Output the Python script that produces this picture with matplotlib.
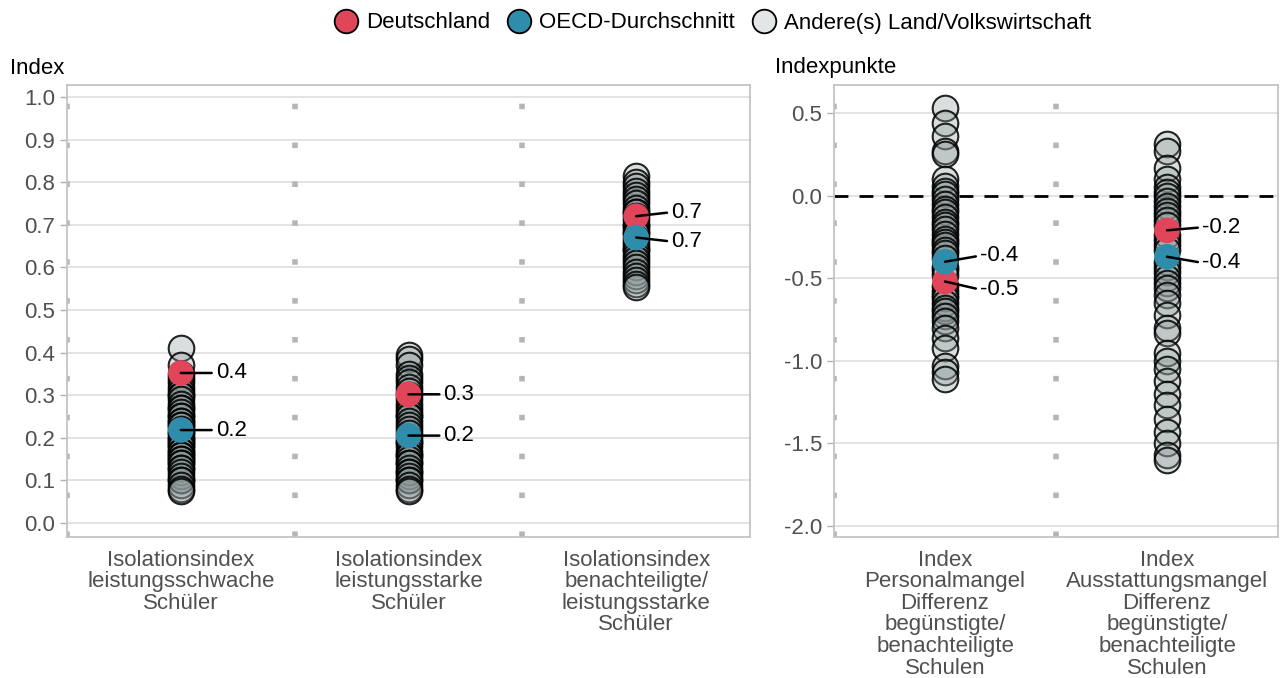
import matplotlib.pyplot as plt
from matplotlib.lines import Line2D

plt.rcParams['font.family'] = ['Liberation Sans', 'DejaVu Sans']

# left panel: isolation indices
left_cats = ['Isolationsindex\nleistungsschwache\nSchüler',
             'Isolationsindex\nleistungsstarke\nSchüler',
             'Isolationsindex\nbenachteiligte/\nleistungsstarke\nSchüler']
left_others = [
    [0.41, 0.37, 0.35, 0.34, 0.33, 0.32, 0.31, 0.30, 0.30, 0.29, 0.28, 0.27, 0.27, 0.26, 0.25,
     0.25, 0.24, 0.24, 0.23, 0.23, 0.22, 0.21, 0.21, 0.20, 0.20, 0.19, 0.19, 0.18, 0.18, 0.17,
     0.17, 0.16, 0.16, 0.15, 0.15, 0.14, 0.14, 0.13, 0.13, 0.12, 0.11, 0.10, 0.10, 0.09, 0.08, 0.075],
    [0.395, 0.385, 0.37, 0.35, 0.34, 0.33, 0.32, 0.31, 0.30, 0.29, 0.28, 0.27, 0.26, 0.25, 0.25,
     0.24, 0.23, 0.22, 0.21, 0.20, 0.19, 0.19, 0.18, 0.17, 0.16, 0.16, 0.15, 0.14, 0.14, 0.13,
     0.12, 0.12, 0.11, 0.10, 0.10, 0.09, 0.08, 0.075],
    [0.815, 0.80, 0.79, 0.78, 0.77, 0.76, 0.75, 0.74, 0.73, 0.73, 0.72, 0.71, 0.70, 0.70, 0.69,
     0.68, 0.68, 0.67, 0.66, 0.65, 0.64, 0.64, 0.63, 0.62, 0.61, 0.60, 0.59, 0.58, 0.57, 0.56, 0.555],
]
left_de = [0.352, 0.302, 0.72]
left_oecd = [0.218, 0.205, 0.67]
left_de_lbl = ['0.4', '0.3', '0.7']
left_oecd_lbl = ['0.2', '0.2', '0.7']

# right panel: differences in shortage indices
right_cats = ['Index\nPersonalmangel\nDifferenz\nbegünstigte/\nbenachteiligte\nSchulen',
              'Index\nAusstattungsmangel\nDifferenz\nbegünstigte/\nbenachteiligte\nSchulen']
right_others = [
    [0.53, 0.44, 0.36, 0.27, 0.25, 0.10, 0.06, 0.03, 0.01, -0.02, -0.05, -0.08, -0.10, -0.13,
     -0.16, -0.18, -0.20, -0.23, -0.26, -0.28, -0.30, -0.33, -0.35, -0.38, -0.43, -0.45, -0.48,
     -0.55, -0.58, -0.60, -0.62, -0.65, -0.68, -0.70, -0.73, -0.76, -0.80, -0.86, -0.92, -1.03,
     -1.07, -1.11],
    [0.31, 0.27, 0.17, 0.10, 0.05, 0.02, 0.00, -0.03, -0.06, -0.09, -0.12, -0.15, -0.18, -0.24,
     -0.27, -0.30, -0.33, -0.40, -0.43, -0.46, -0.50, -0.53, -0.56, -0.60, -0.65, -0.72, -0.80,
     -0.83, -0.95, -1.00, -1.05, -1.12, -1.20, -1.27, -1.35, -1.43, -1.50, -1.57, -1.60],
]
right_de = [-0.52, -0.21]
right_oecd = [-0.40, -0.37]
right_de_lbl = ['-0.5', '-0.2']
right_oecd_lbl = ['-0.4', '-0.4']

RED = '#e0455a'
BLUE = '#2f8dab'
GREY_FACE = (0.55, 0.6, 0.6, 0.32)
TXT = '#505050'
MS = 340
FS = 16

fig = plt.figure(figsize=(12.85, 6.78), dpi=100)
W, H = 1285, 678
ax1 = fig.add_axes([67 / W, 1 - 537 / H, (750 - 67) / W, (537 - 85) / H])
ax2 = fig.add_axes([834 / W, 1 - 537 / H, (1278 - 834) / W, (537 - 85) / H])


def draw_panel(ax, cats, others, de, oecd, de_lbl, oecd_lbl, label_dy):
    n = len(cats)
    for i in range(n):
        ax.scatter([i] * len(others[i]), others[i], s=MS, facecolor=GREY_FACE,
                   edgecolor=(0, 0, 0, 0.85), linewidth=1.5, zorder=3)
        ax.scatter([i], [de[i]], s=MS, facecolor=RED, edgecolor='none', zorder=5)
        ax.scatter([i], [oecd[i]], s=MS, facecolor=BLUE, edgecolor='none', zorder=5)
        dy_de, dy_oecd = label_dy[i]
        for val, lbl, dy in [(de[i], de_lbl[i], dy_de), (oecd[i], oecd_lbl[i], dy_oecd)]:
            ax.annotate(lbl, xy=(i, val), xytext=(35, dy), textcoords='offset pixels',
                        va='center', ha='left', fontsize=FS, color='black', zorder=6,
                        arrowprops=dict(arrowstyle='-', color='black', lw=1.8,
                                        shrinkA=1, shrinkB=0,
                                        relpos=(0, 0.5)))
    ax.set_xlim(-0.5, n - 0.5)
    ax.set_xticks(range(n))
    ax.set_xticklabels(cats, fontsize=FS, color=TXT, linespacing=1.04)
    for b in range(n):
        ax.axvline(b - 0.5, color='#b5b5b5', lw=4, ls=(0, (1, 6)), zorder=1)
    ax.grid(axis='y', color='#dedede', lw=1.2, zorder=0)
    ax.set_axisbelow(True)
    for sp in ax.spines.values():
        sp.set_color('#c4c4c4')
        sp.set_linewidth(1.3)
    ax.tick_params(axis='y', colors='#b0b0b0', labelcolor=TXT, labelsize=FS, length=5, width=1)
    ax.tick_params(axis='x', length=0, pad=9)


draw_panel(ax1, left_cats, left_others, left_de, left_oecd, left_de_lbl, left_oecd_lbl,
           [(0, 0), (0, 0), (4, -4)])
ax1.set_ylim(-0.033, 1.028)
ax1.set_yticks([i / 10 for i in range(11)])
ax1.set_yticklabels([f'{i / 10:.1f}' for i in range(11)])

draw_panel(ax2, right_cats, right_others, right_de, right_oecd, right_de_lbl, right_oecd_lbl,
           [(-8, 6), (3, -6)])
ax2.axhline(0, color='black', lw=2, ls=(0, (5, 4)), zorder=2)
ax2.set_ylim(-2.067, 0.67)
ax2.set_yticks([0.5, 0.0, -0.5, -1.0, -1.5, -2.0])
ax2.set_yticklabels(['0.5', '0.0', '-0.5', '-1.0', '-1.5', '-2.0'])

fig.text(10 / W, 1 - 68 / H, 'Index', fontsize=FS, va='center', ha='left')
fig.text(775 / W, 1 - 68 / H, 'Indexpunkte', fontsize=FS, va='center', ha='left')

handles = [
    Line2D([], [], ls='none', marker='o', markersize=17, markerfacecolor=RED, markeredgecolor='black', markeredgewidth=1.3),
    Line2D([], [], ls='none', marker='o', markersize=17, markerfacecolor=BLUE, markeredgecolor='black', markeredgewidth=1.3),
    Line2D([], [], ls='none', marker='o', markersize=17, markerfacecolor='#e3e6e6', markeredgecolor='black', markeredgewidth=1.3),
]
fig.legend(handles, ['Deutschland', 'OECD-Durchschnitt', 'Andere(s) Land/Volkswirtschaft'],
           loc='center', bbox_to_anchor=(712 / W, 1 - 23 / H), ncol=3, frameon=False,
           fontsize=FS, handletextpad=0.3, columnspacing=0.7, handlelength=1.2)

fig.savefig('out.png', dpi=100)
